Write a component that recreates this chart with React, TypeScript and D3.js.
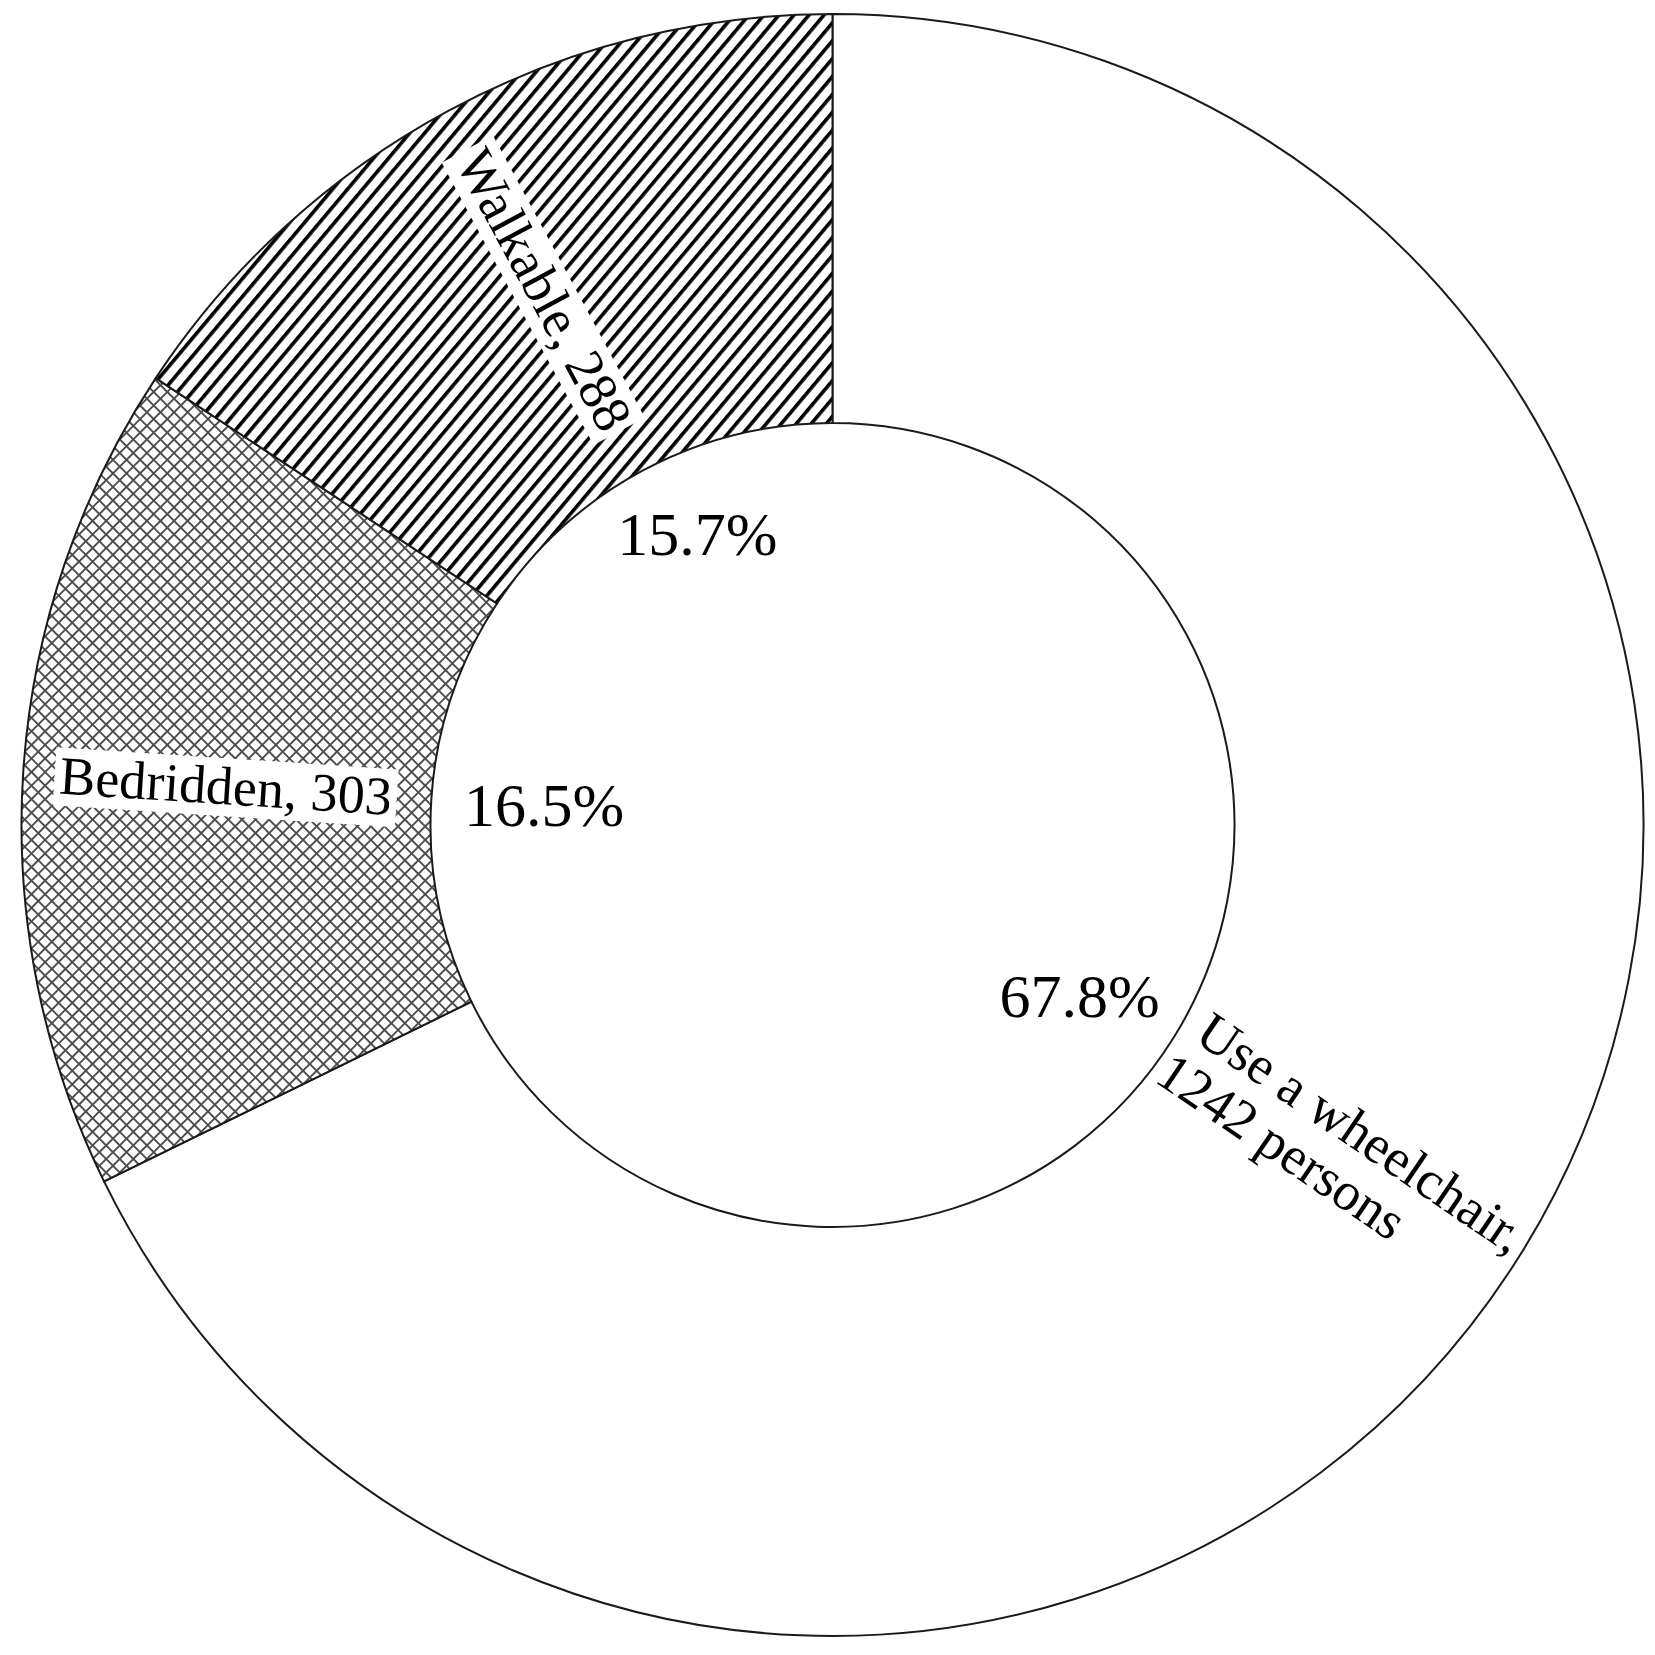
import React, { useRef, useEffect } from "react";
import * as d3 from "d3";

// slice data, clockwise from 12 o'clock
const categories = ["Use a wheelchair", "Bedridden", "Walkable"];
const counts = [1242, 303, 288];
const percentLabels = ["67.8%", "16.5%", "15.7%"];
const nameLabels = [["Use a wheelchair,", "1242 persons"], ["Bedridden, 303"], ["Walkable, 288"]];
const fills = ["#ffffff", "url(#cross)", "url(#stripe)"];

const App = () => {
  const svgRef = useRef<SVGSVGElement>(null);

  useEffect(() => {
    const width = 1655;
    const height = 1655;
    const cx = 832.5;
    const cy = 825;
    const outerR = 811;
    const innerR = 402;
    const font = "'Liberation Serif', 'Times New Roman', serif";

    const svg = d3.select(svgRef.current).attr("width", width).attr("height", height);
    svg.selectAll("*").remove();

    const defs = svg.append("defs");

    // wide upward diagonal stripes
    const sp = 11.5;
    const stripe = defs
      .append("pattern")
      .attr("id", "stripe")
      .attr("patternUnits", "userSpaceOnUse")
      .attr("width", sp)
      .attr("height", sp)
      .attr("patternTransform", "rotate(40)");
    stripe.append("rect").attr("width", sp).attr("height", sp).attr("fill", "#fff");
    stripe.append("rect").attr("width", 3.6).attr("height", sp).attr("fill", "#000");

    // diagonal cross hatch
    const cs = 9.6;
    const cross = defs
      .append("pattern")
      .attr("id", "cross")
      .attr("patternUnits", "userSpaceOnUse")
      .attr("width", cs)
      .attr("height", cs)
      .attr("patternTransform", "rotate(45)");
    cross.append("rect").attr("width", cs).attr("height", cs).attr("fill", "#fff");
    cross.append("rect").attr("width", 1.9).attr("height", cs).attr("fill", "#4d4d4d");
    cross.append("rect").attr("width", cs).attr("height", 1.9).attr("fill", "#4d4d4d");

    const g = svg.append("g").attr("transform", `translate(${cx},${cy})`);

    const pie = d3
      .pie<number>()
      .sort(null)
      .value((d) => d);
    const arcs = pie(counts);

    const arc = d3.arc<d3.PieArcDatum<number>>().innerRadius(innerR).outerRadius(outerR);

    g.selectAll("path.slice")
      .data(arcs)
      .join("path")
      .attr("class", "slice")
      .attr("d", arc)
      .attr("fill", (d, i) => fills[i])
      .attr("stroke", "#1a1a1a")
      .attr("stroke-width", 2);

    const mid = (d: d3.PieArcDatum<number>) => (d.startAngle + d.endAngle) / 2;
    const polar = (a: number, r: number) => [Math.sin(a) * r, -Math.cos(a) * r];
    const rad = Math.PI / 180;

    // percentage labels inside the hole
    const pctRadius = [301, 289, 320];
    const pctShift = [2.9, 0, 3.3];
    arcs.forEach((d, i) => {
      const a = mid(d) + pctShift[i] * rad;
      const [x, y] = polar(a, pctRadius[i]);
      g.append("text")
        .attr("x", x)
        .attr("y", y)
        .attr("dy", "0.32em")
        .attr("text-anchor", "middle")
        .attr("font-family", font)
        .attr("font-size", 62)
        .attr("fill", "#000")
        .text(percentLabels[i]);
    });

    // category labels, set radially in the ring
    const labelRadius = [612, 608, 608];
    const labelShift = [-1.8, 0, 0];
    arcs.forEach((d, i) => {
      const a = mid(d) + labelShift[i] * rad;
      const [x, y] = polar(a, labelRadius[i]);
      const lines = nameLabels[i];
      // first slice reads outward, the others inward
      const rot =
        i === 0
          ? Math.atan2(-Math.cos(a), Math.sin(a)) / rad + 4
          : Math.atan2(Math.cos(a), -Math.sin(a)) / rad;
      const lg = g.append("g").attr("transform", `translate(${x},${y}) rotate(${rot})`);

      if (lines.length === 1) {
        const bg = lg.append("rect").attr("fill", "#fff");
        const t = lg
          .append("text")
          .attr("text-anchor", "middle")
          .attr("dy", "0.34em")
          .attr("font-family", font)
          .attr("font-size", 54)
          .attr("fill", "#000")
          .text(lines[0]);
        const bb = (t.node() as SVGTextElement).getBBox();
        bg.attr("x", bb.x - 5)
          .attr("y", bb.y + 2)
          .attr("width", bb.width + 10)
          .attr("height", bb.height - 2);
      } else {
        const t1 = lg
          .append("text")
          .attr("text-anchor", "middle")
          .attr("dy", "0.34em")
          .attr("font-family", font)
          .attr("font-size", 54)
          .attr("fill", "#000")
          .text(lines[0]);
        const w1 = (t1.node() as SVGTextElement).getComputedTextLength();
        lg.append("text")
          .attr("x", -w1 / 2 - 10)
          .attr("y", 56)
          .attr("text-anchor", "start")
          .attr("dy", "0.34em")
          .attr("font-family", font)
          .attr("font-size", 54)
          .attr("fill", "#000")
          .text(lines[1]);
      }
    });
  }, []);

  return (
    <svg
      ref={svgRef}
      style={{ position: "absolute", left: 0, top: 0, background: "#fff" }}
      aria-label={categories.join(", ")}
    ></svg>
  );
};

export default App;
